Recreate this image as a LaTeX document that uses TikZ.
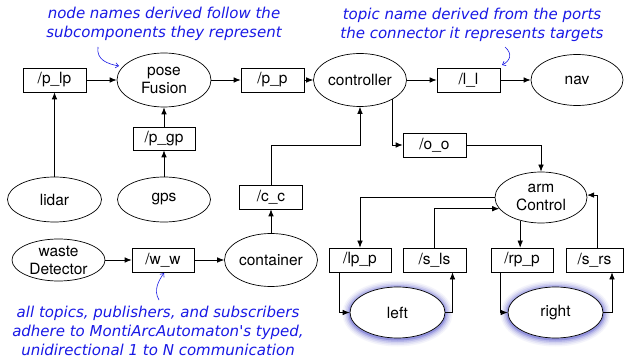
\documentclass[tikz,border=0pt]{standalone}
\usepackage{fontspec}
\setmainfont{TeX Gyre Heros}
\newfontfamily\nodefont{TeX Gyre Heros}
\newfontfamily\notefont{DejaVu Sans}
\usetikzlibrary{shapes.geometric,arrows.meta,calc}
\definecolor{noteblue}{RGB}{25,25,230}
\definecolor{glowc}{RGB}{80,80,200}
\begin{document}
\begin{tikzpicture}[x=1pt,y=-1pt,
 every node/.style={font=\nodefont\fontsize{15.5}{18}\selectfont},
 tbox/.style={draw, line width=0.7pt, rectangle, minimum width=63pt, minimum height=24pt, inner sep=0pt, fill=white},
 ell/.style={draw, line width=0.7pt, ellipse, fill=white, inner sep=0pt},
 arr/.style={-{Latex[length=7pt,width=5.5pt]}, line width=0.7pt},
 note/.style={text=noteblue, font=\notefont\itshape\fontsize{15}{19}\selectfont, align=center, inner sep=0pt},
 narr/.style={draw=noteblue, line width=0.6pt, -{Straight Barb[length=3pt,width=5pt]}}]
\useasboundingbox[fill=white] (0,0) rectangle (624,358);

% glows
\foreach \lw/\op in {15/0.06,12/0.09,9/0.13,6/0.2,3/0.35}{
  \draw[glowc, line width=\lw pt, opacity=\op] (397.5,313.5) ellipse [x radius=47.5, y radius=25.5];
  \draw[glowc, line width=\lw pt, opacity=\op] (555.5,313.5) ellipse [x radius=47.5, y radius=25.5];
}

% nodes
\node[tbox] (plp) at (54.5,80) {/p\_lp};
\node[ell, minimum width=94pt, minimum height=54pt, label={[align=center]center:pose\\Fusion}] (pose) at (164,80) {};
\node[tbox] (pp) at (272.5,80) {/p\_p};
\node[ell, minimum width=93pt, minimum height=53pt, label={center:controller}] (ctrl) at (360,80) {};
\node[tbox] (ll) at (468.5,80) {/l\_l};
\node[ell, minimum width=92pt, minimum height=51pt, label={center:nav}] (nav) at (577,80) {};
\node[tbox, minimum width=62pt, minimum height=23pt] (pgp) at (164,138.5) {/p\_gp};
\node[ell, minimum width=94pt, minimum height=45pt, label={center:lidar}] (lidar) at (54.5,199.5) {};
\node[ell, minimum width=93pt, minimum height=45pt, label={center:gps}] (gps) at (164,199.5) {};
\node[tbox] (cc) at (271,197) {/c\_c};
\node[tbox] (oo) at (434.5,145) {/o\_o};
\node[ell, minimum width=92pt, minimum height=51pt, label={[align=center]center:arm\\Control}] (armC) at (541,197.5) {};
\node[ell, minimum width=93pt, minimum height=42pt, label={[align=center]center:waste\\Detector}] (waste) at (58.5,260) {};
\node[tbox, minimum width=62pt] (ww) at (163,260) {/w\_w};
\node[ell, minimum width=93pt, minimum height=53pt, label={center:container}] (cont) at (271,260) {};
\node[tbox, minimum width=62pt] (lpp) at (360,260) {/lp\_p};
\node[tbox] (sls) at (434.5,260) {/s\_ls};
\node[tbox, minimum width=62pt] (rpp) at (522,260) {/rp\_p};
\node[tbox, minimum width=57pt] (srs) at (594.5,260) {/s\_rs};
\node[ell, minimum width=95pt, minimum height=51pt, label={center:left}] (left) at (397.5,312.5) {};
\node[ell, minimum width=95pt, minimum height=51pt, label={center:right}] (right) at (555.5,312.5) {};

% connectors
\draw[arr] (lidar) -- (plp);
\draw[arr] (plp) -- (pose);
\draw[arr] (gps) -- (pgp);
\draw[arr] (pgp) -- (pose);
\draw[arr] (pose) -- (pp);
\draw[arr] (pp) -- (ctrl);
\draw[arr] (ctrl) -- (ll);
\draw[arr] (ll) -- (nav);
\draw[arr] (waste) -- (ww);
\draw[arr] (ww) -- (cont);
\draw[arr] (cont) -- (cc);
\draw[arr] (cc.north) |- (ctrl.south |- oo.west) -- (ctrl.south);
\draw[arr] (ctrl.-31) |- (oo.west);
\draw[arr] (oo.east) -| (armC.north);
\draw[arr] (armC.west) -| (lpp.north);
\draw[arr] (sls.north) |- (armC.195.65);
\draw[arr] (armC.228.9) -- (armC.228.9 |- rpp.north);
\draw[arr] ($(srs.north)+(2.5,0)$) |- (armC.3.1);
\draw[arr] ($(lpp.south)+(-21,0)$) |- (left.west);
\draw[arr] (left.east) -| ($(sls.south)+(18,0)$);
\draw[arr] ($(rpp.south)+(-22,0)$) |- (right.west);
\draw[arr] (right.east) -| ($(srs.south)+(17.5,0)$);

% notes
\node[note] (n1) at (164,24) {node names derived follow the\\subcomponents they represent};
\node[note] (n2) at (472,24.5) {topic name derived from the ports\\the connector it represents targets};
\node[note] (n3) at (158,331) {all topics, publishers, and subscribers\\adhere to MontiArcAutomaton's typed,\\unidirectional 1 to N communication};
\coordinate (a1) at (98,47);
\coordinate (a2) at (505,47);
\coordinate (a3) at (159,300);
\draw[narr] (a1) .. controls (96,60) and (108,64) .. (119,66);
\draw[narr] (a2) .. controls (513,54) and (510,61) .. (502,65);
\draw[narr] (a3) .. controls (153,290) and (159,280) .. (164,273);
\end{tikzpicture}
\end{document}
